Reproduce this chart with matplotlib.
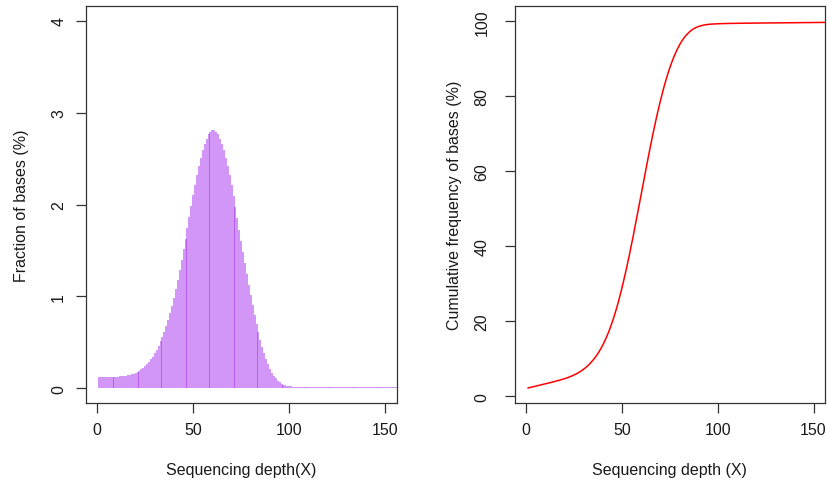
import numpy as np
import matplotlib
matplotlib.use("Agg")
import matplotlib.pyplot as plt

plt.rcParams['font.family'] = ['Liberation Sans', 'DejaVu Sans']

# Sequencing depth (X) for each position
depth = list(range(1, 159))

# Fraction of bases (%) at each depth
fraction = [
    0.127, 0.126, 0.125, 0.125, 0.125, 0.125, 0.125, 0.126, 0.126, 0.127,
    0.128, 0.129, 0.131, 0.133, 0.136, 0.140, 0.145, 0.151, 0.159, 0.166,
    0.179, 0.189, 0.206, 0.221, 0.243, 0.263, 0.286, 0.314, 0.345, 0.381,
    0.422, 0.463, 0.510, 0.563, 0.617, 0.678, 0.745, 0.819, 0.900, 0.987,
    1.080, 1.179, 1.283, 1.396, 1.512, 1.630, 1.749, 1.868, 1.986, 2.100,
    2.209, 2.318, 2.419, 2.511, 2.592, 2.662, 2.720, 2.764, 2.793, 2.808,
    2.808, 2.793, 2.764, 2.720, 2.662, 2.592, 2.511, 2.419, 2.318, 2.209,
    2.095, 1.976, 1.853, 1.729, 1.605, 1.482, 1.361, 1.243, 1.129, 1.015,
    0.905, 0.800, 0.700, 0.610, 0.525, 0.450, 0.380, 0.315, 0.260, 0.210,
    0.170, 0.135, 0.107, 0.084, 0.066, 0.052, 0.041, 0.033, 0.027, 0.023,
    0.020, 0.018, 0.017, 0.016, 0.015, 0.015, 0.014, 0.014, 0.014, 0.013,
    0.013, 0.013, 0.013, 0.013, 0.013, 0.012, 0.012, 0.012, 0.012, 0.012,
    0.012, 0.012, 0.012, 0.012, 0.012, 0.012, 0.012, 0.012, 0.012, 0.012,
    0.011, 0.011, 0.011, 0.011, 0.011, 0.011, 0.011, 0.011, 0.011, 0.011,
    0.011, 0.011, 0.011, 0.011, 0.011, 0.011, 0.011, 0.011, 0.011, 0.011,
    0.011, 0.011, 0.011, 0.011, 0.011, 0.011, 0.011, 0.011,
]

# Cumulative frequency of bases (%) at each depth
cumulative = [
    2.22, 2.34, 2.46, 2.59, 2.71, 2.83, 2.95, 3.07, 3.19, 3.31,
    3.44, 3.56, 3.69, 3.82, 3.95, 4.08, 4.22, 4.37, 4.52, 4.68,
    4.85, 5.04, 5.24, 5.45, 5.68, 5.94, 6.21, 6.52, 6.85, 7.22,
    7.62, 8.07, 8.56, 9.11, 9.70, 10.36, 11.07, 11.86, 12.73, 13.69,
    14.73, 15.87, 17.10, 18.45, 19.91, 21.48, 23.17, 24.97, 26.89, 28.92,
    31.05, 33.28, 35.62, 38.04, 40.54, 43.11, 45.74, 48.40, 51.10, 53.81,
    56.52, 59.21, 61.88, 64.51, 67.08, 69.58, 72.00, 74.33, 76.57, 78.70,
    80.72, 82.63, 84.42, 86.09, 87.64, 89.07, 90.38, 91.58, 92.67, 93.65,
    94.52, 95.29, 95.97, 96.56, 97.06, 97.50, 97.87, 98.17, 98.42, 98.62,
    98.79, 98.92, 99.02, 99.10, 99.17, 99.22, 99.26, 99.29, 99.31, 99.34,
    99.36, 99.38, 99.39, 99.41, 99.42, 99.43, 99.44, 99.45, 99.46, 99.47,
    99.48, 99.48, 99.49, 99.49, 99.50, 99.50, 99.51, 99.51, 99.52, 99.52,
    99.53, 99.53, 99.54, 99.54, 99.55, 99.55, 99.56, 99.56, 99.57, 99.57,
    99.58, 99.58, 99.59, 99.59, 99.60, 99.60, 99.61, 99.61, 99.62, 99.62,
    99.63, 99.63, 99.64, 99.64, 99.65, 99.65, 99.66, 99.66, 99.67, 99.67,
    99.68, 99.68, 99.69, 99.69, 99.70, 99.70, 99.70, 99.71,
]

x_ticks = [0, 50, 100, 150]
frac_ticks = [0, 1, 2, 3, 4]
cum_ticks = [0, 20, 40, 60, 80, 100]

TEXT = '#1a1a1a'
FS = 11.5

fig = plt.figure(figsize=(8.27, 4.89), dpi=100)
ax1 = fig.add_axes([0.1036, 0.1738, 0.3761, 0.8113])
ax2 = fig.add_axes([0.6224, 0.1738, 0.3752, 0.8113])


def style(ax, ypad):
    for s in ax.spines.values():
        s.set_color('#333333')
        s.set_linewidth(0.9)
    ax.tick_params(axis='both', direction='out', length=7, width=0.9,
                   color='#333333', labelsize=FS, labelcolor=TEXT)
    ax.tick_params(axis='x', pad=7)
    ax.tick_params(axis='y', pad=ypad)
    for lab in ax.get_yticklabels():
        lab.set_rotation(90)
        lab.set_va('center')
        lab.set_ha('right')


# Left: per-depth fraction drawn as vertical lines
ax1.vlines(depth, 0, fraction, colors='#A020F0', linewidth=1.3, alpha=0.52)
ax1.set_xlim(-6, 156)
ax1.set_ylim(-0.16, 4.16)
ax1.set_xticks(x_ticks)
ax1.set_yticks(frac_ticks)
style(ax1, 7)
ax1.set_xlabel('Sequencing depth(X)', fontsize=FS, color=TEXT, va='center')
ax1.xaxis.set_label_coords(0.5, -0.1664)
ax1.set_ylabel('Fraction of bases (%)', fontsize=FS, color=TEXT, va='center')
ax1.yaxis.set_label_coords(-0.2060, 0.5)

# Right: cumulative curve
ax2.plot(depth, cumulative, color='#FF0000', linewidth=1.1)
ax2.set_xlim(-6, 156)
ax2.set_ylim(-1.8, 104.0)
ax2.set_xticks(x_ticks)
ax2.set_yticks(cum_ticks)
style(ax2, 11)
ax2.set_xlabel('Sequencing depth (X)', fontsize=FS, color=TEXT, va='center')
ax2.xaxis.set_label_coords(0.5, -0.1664)
ax2.set_ylabel('Cumulative frequency of bases (%)', fontsize=FS, color=TEXT, va='center')
ax2.yaxis.set_label_coords(-0.1950, 0.5)

fig.savefig('out.png', dpi=100)
